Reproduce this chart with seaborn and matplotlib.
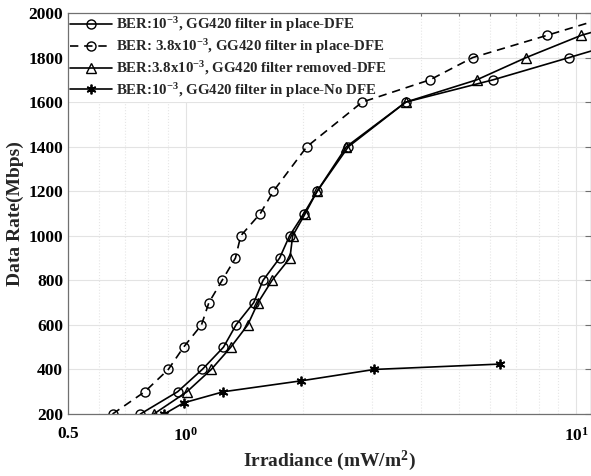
import numpy as np
import pandas as pd
import matplotlib
matplotlib.use("Agg")
import matplotlib.pyplot as plt
import matplotlib.ticker as mticker
import seaborn as sns

# ---- data ----
x_dfe_1e3 = [0.766, 0.954, 1.103, 1.250, 1.346, 1.494, 1.578, 1.740, 1.845, 2.008, 2.171, 2.61, 3.66, 6.12, 9.58, 12.5]
y_dfe_1e3 = [200, 300, 400, 500, 600, 700, 800, 900, 1000, 1100, 1200, 1400, 1600, 1700, 1800, 1860]

x_dfe_38 = [0.650, 0.786, 0.903, 0.988, 1.098, 1.147, 1.240, 1.341, 1.384, 1.553, 1.677, 2.043, 2.83, 4.22, 5.43, 8.42, 13.0]
y_dfe_38 = [200, 300, 400, 500, 600, 700, 800, 900, 1000, 1100, 1200, 1400, 1600, 1700, 1800, 1900, 2000]

x_removed = [0.829, 1.008, 1.163, 1.305, 1.442, 1.532, 1.664, 1.849, 1.879, 2.024, 2.17, 2.58, 3.66, 5.56, 7.44, 10.3, 13.0]
y_removed = [200, 300, 400, 500, 600, 700, 800, 900, 1000, 1100, 1200, 1400, 1600, 1700, 1800, 1900, 1950]

x_nodfe = [0.882, 0.988, 1.250, 1.977, 3.04, 6.36]
y_nodfe = [200, 250, 300, 349, 400, 424]

labels = [
    r"BER:10$^{-3}$, GG420 filter in place-DFE",
    r"BER: 3.8x10$^{-3}$, GG420 filter in place-DFE",
    r"BER:3.8x10$^{-3}$, GG420 filter removed-DFE",
    r"BER:10$^{-3}$, GG420 filter in place-No DFE",
]
y_ticks = [200, 400, 600, 800, 1000, 1200, 1400, 1600, 1800, 2000]

sns.set_style("white")
plt.rcParams["font.family"] = ["Liberation Serif", "DejaVu Serif"]
plt.rcParams["font.weight"] = "bold"
plt.rcParams["mathtext.fontset"] = "custom"
plt.rcParams["mathtext.rm"] = "Liberation Serif:bold"
plt.rcParams["mathtext.it"] = "Liberation Serif:bold"
plt.rcParams["mathtext.bf"] = "Liberation Serif:bold"
plt.rcParams["mathtext.default"] = "rm"

fig = plt.figure(figsize=(5.91, 4.76), dpi=100)
ax = fig.add_axes([68 / 591, 1 - 414 / 476, (591 - 68) / 591, (414 - 13) / 476])

common = dict(color="black", linewidth=1.2, markersize=6.5, markerfacecolor="none",
              markeredgecolor="black", markeredgewidth=1.0, estimator=None, sort=False, ax=ax)

sns.lineplot(x=x_dfe_1e3, y=y_dfe_1e3, marker="o", label=labels[0], **common)
sns.lineplot(x=x_dfe_38, y=y_dfe_38, marker="o", linestyle=(0, (5, 3.5)), label=labels[1], **common)
sns.lineplot(x=x_removed, y=y_removed, marker="^", label=labels[2], **common)
c2 = dict(common)
c2["markersize"] = 7
c2["markeredgewidth"] = 1.3
sns.lineplot(x=x_nodfe, y=y_nodfe, marker=(6, 2, 0), label=labels[3], **c2)

ax.set_xscale("log")
ax.set_xlim(0.5, 10.9)
ax.set_ylim(200, 2000)
ax.set_xticks([0.5, 1, 10])
ax.set_xticklabels(["0.5", r"10$^0$", r"10$^1$"])
ax.xaxis.set_minor_locator(mticker.LogLocator(base=10, subs=np.arange(2, 10), numticks=20))
ax.xaxis.set_minor_formatter(mticker.NullFormatter())
ax.set_yticks(y_ticks)
ax.set_yticklabels([str(v) for v in y_ticks])

ax.grid(which="major", color="#e3e3e3", linewidth=0.8, linestyle="-")
ax.grid(which="minor", axis="x", color="#e6e6e6", linewidth=0.8, linestyle=":")
ax.set_axisbelow(True)

for s in ax.spines.values():
    s.set_color("#707070")
    s.set_linewidth(0.9)
    s.set_visible(True)
ax.tick_params(which="both", direction="in", top=True, right=True, colors="#707070",
               labelcolor="black", labelsize=12.5, width=0.8)
ax.tick_params(which="major", length=4)
ax.tick_params(which="minor", length=2.5)
ax.tick_params(axis="x", pad=9)
for lab in ax.get_xticklabels() + ax.get_yticklabels():
    lab.set_fontweight("bold")

ax.set_xlabel(r"Irradiance (mW/m$^2$)", fontsize=14, fontweight="bold", labelpad=3)
ax.set_ylabel("Data Rate(Mbps)", fontsize=14, fontweight="bold", labelpad=3)

leg = ax.legend(loc="upper left", frameon=True, fancybox=False, framealpha=1.0,
                edgecolor="none", facecolor="white", handlelength=2.8, handletextpad=0.3,
                borderaxespad=0.0, borderpad=0.15, labelspacing=0.22,
                prop={"family": "Liberation Serif", "weight": "bold", "size": 10.7})
leg.set_zorder(1.5)

fig.savefig("out.png", dpi=100)
